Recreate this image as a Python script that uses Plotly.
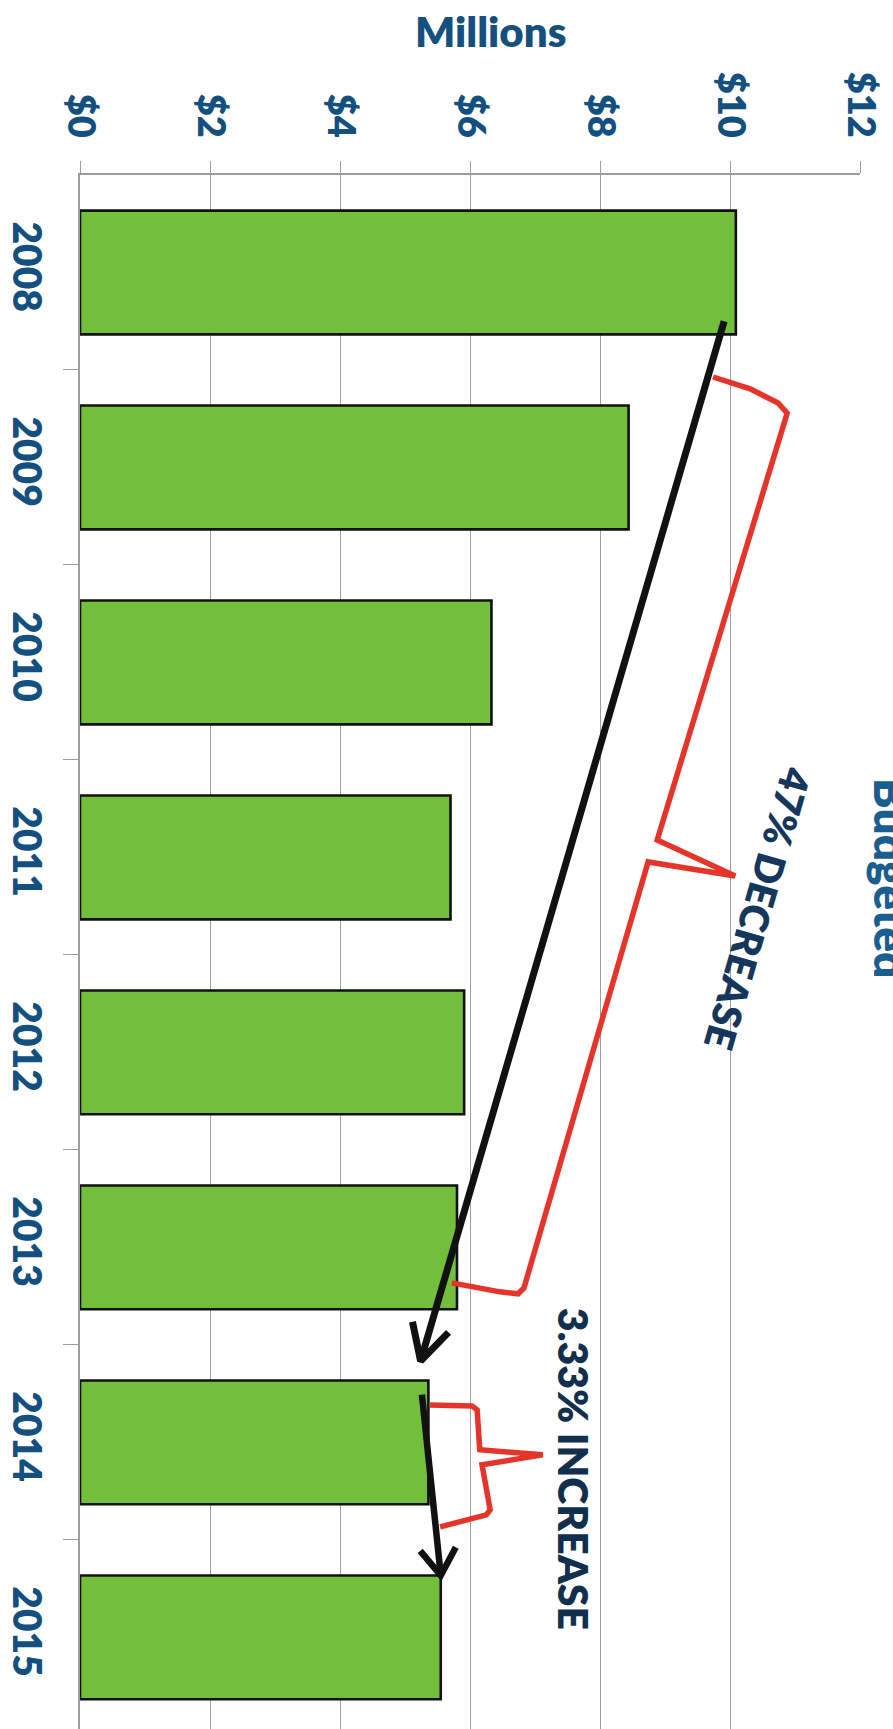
import math
import plotly.graph_objects as go

# Budgeted amounts by year, in millions of dollars
years = ["2008", "2009", "2010", "2011", "2012", "2013", "2014", "2015"]
budget_millions = [10.09, 8.44, 6.33, 5.70, 5.91, 5.80, 5.36, 5.55]

x_tick_values = [0, 2, 4, 6, 8, 10, 12]
x_tick_labels = ["$0", "$2", "$4", "$6", "$8", "$10", "$12"]

decrease_label = "47% DECREASE"
increase_label = "3.33% INCREASE"

# Figure geometry
W, H = 893, 1729
ML, MR, MT, MB = 80, 33, 175, 0
X_RANGE = [0, 12]
Y_RANGE = [7.47, -0.5]
BAR_WIDTH = 0.635
PX_X = (W - ML - MR) / (X_RANGE[1] - X_RANGE[0])
PX_Y = (H - MT - MB) / (Y_RANGE[0] - Y_RANGE[1])

BLUE = "#13507F"
NAVY = "#15375C"
GRID = "#9E9E9E"
GREEN = "#73BF3C"
RED = "#E5342A"
FONT = "Lato"
HEAVY = 800

idx = list(range(len(years)))
half = BAR_WIDTH / 2


def v_head(tip, tail, length_px, spread_deg):
    """Two wing points of an open arrowhead, computed in screen space."""
    dx = (tail[0] - tip[0]) * PX_X
    dy = (tail[1] - tip[1]) * PX_Y
    n = math.hypot(dx, dy)
    ux, uy = dx / n, dy / n
    wings = []
    for s in (1, -1):
        a = math.radians(s * spread_deg)
        rx = ux * math.cos(a) - uy * math.sin(a)
        ry = ux * math.sin(a) + uy * math.cos(a)
        wings.append((tip[0] + rx * length_px / PX_X, tip[1] + ry * length_px / PX_Y))
    return wings


fig = go.Figure()

fig.add_trace(go.Bar(
    x=budget_millions, y=idx, orientation="h", width=BAR_WIDTH,
    marker=dict(color=GREEN, line=dict(color="#111111", width=2.6)),
    hoverinfo="skip",
))

# Callout braces (drawn beneath the arrows)
brace_big = [(9.74, 0.536), (10.31, 0.597), (10.74, 0.669), (10.88, 0.721),
             (8.88, 2.910), (10.08, 3.095), (8.74, 3.023), (6.83, 5.208),
             (6.74, 5.238), (6.46, 5.228), (5.72, 5.182)]
brace_small = [(5.385, 5.808), (6.03, 5.813), (6.11, 5.833), (6.15, 6.038),
               (7.12, 6.064), (6.185, 6.115), (6.31, 6.346), (6.25, 6.372),
               (5.54, 6.433)]
for pts in (brace_big, brace_small):
    fig.add_trace(go.Scatter(
        x=[p[0] for p in pts], y=[p[1] for p in pts], mode="lines",
        line=dict(color=RED, width=5.5), hoverinfo="skip",
    ))

# Trend arrows: 2008 -> 2014 and 2014 -> 2015
arrows = [
    ((budget_millions[0] - 0.18, 0 + 0.25), (budget_millions[6] - 0.12, 6 - half - 0.10), 7, 40, 28),
    ((budget_millions[6] - 0.10, 6 - 0.245), (budget_millions[7], 7 - half), 6.5, 32, 34),
]
for tail, tip, w, hl, sp in arrows:
    fig.add_trace(go.Scatter(
        x=[tail[0], tip[0]], y=[tail[1], tip[1]], mode="lines",
        line=dict(color="#111111", width=w), hoverinfo="skip",
    ))
    w1, w2 = v_head(tip, tail, hl, sp)
    fig.add_trace(go.Scatter(
        x=[w1[0], tip[0], w2[0]], y=[w1[1], tip[1], w2[1]], mode="lines",
        line=dict(color="#111111", width=w), hoverinfo="skip",
    ))

tick_font = dict(family=FONT, size=38, color=BLUE, weight=HEAVY)
year_font = dict(family=FONT, size=39, color=BLUE, weight=HEAVY)

fig.update_layout(
    width=W, height=H,
    margin=dict(l=ML, r=MR, t=MT, b=MB, pad=0, autoexpand=False),
    showlegend=False,
    plot_bgcolor="white", paper_bgcolor="white",
    xaxis=dict(
        side="top", range=X_RANGE, tickmode="array",
        tickvals=x_tick_values, ticktext=x_tick_labels, tickangle=90,
        showgrid=True, gridcolor=GRID, gridwidth=1.3,
        showline=True, linecolor=GRID, linewidth=1.6,
        ticks="outside", ticklen=12, tickcolor=GRID, tickwidth=1.3,
        tickfont=tick_font, zeroline=False, automargin=False,
        ticklabelstandoff=10,
    ),
    yaxis=dict(
        range=Y_RANGE, tickmode="array", tickvals=idx, ticktext=years,
        tickangle=90, ticks="", showgrid=False, zeroline=False,
        showline=True, linecolor=GRID, linewidth=1.6,
        minor=dict(tickmode="array", tickvals=[i + 0.5 for i in idx[:-1]],
                   ticks="outside", ticklen=15, tickcolor=GRID, tickwidth=1.3,
                   showgrid=False),
        tickfont=year_font, automargin=False, ticklabelstandoff=18,
    ),
    annotations=[
        dict(text="Millions", xref="paper", yref="paper",
             x=(490 - ML) / (W - ML - MR), y=1 + (MT - 31) / (H - MT - MB),
             xanchor="center", yanchor="middle", showarrow=False,
             font=dict(family=FONT, size=42, color=BLUE, weight=HEAVY)),
        dict(text="Budgeted", xref="paper", yref="paper",
             x=(891 - ML) / (W - ML - MR), y=1 - (878 - MT) / (H - MT - MB),
             xanchor="center", yanchor="middle", showarrow=False, textangle=90,
             font=dict(family=FONT, size=46, color="#1A5E8F", weight=HEAVY)),
        dict(text=decrease_label, xref="x", yref="y", x=10.43, y=3.26,
             xanchor="center", yanchor="middle", showarrow=False, textangle=106,
             font=dict(family=FONT, size=40, color=NAVY, weight=HEAVY)),
        dict(text=increase_label, xref="x", yref="y", x=7.585, y=6.136,
             xanchor="center", yanchor="middle", showarrow=False, textangle=90,
             font=dict(family=FONT, size=41, color="#122F4D", weight=HEAVY)),
    ],
)

fig.write_html("out.html")
